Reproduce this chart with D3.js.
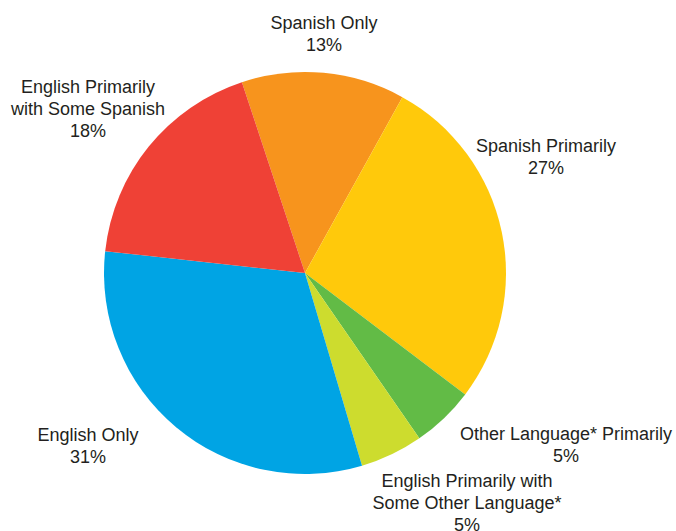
<!DOCTYPE html>
<html>
<head>
<meta charset="utf-8">
<script src="https://cdn.jsdelivr.net/npm/d3@7"></script>
<style>
  html, body { margin: 0; padding: 0; background: #fff; }
  svg { display: block; }
  text { font-family: "Liberation Sans", Arial, Helvetica, sans-serif; fill: #231f20; }
</style>
</head>
<body>
<svg id="chart" width="676" height="531"></svg>
<script>
// Language use shares, listed clockwise starting from "Spanish Only"
const categories = [
  "Spanish Only",
  "Spanish Primarily",
  "Other Language* Primarily",
  "English Primarily with Some Other Language*",
  "English Only",
  "English Primarily with Some Spanish"
];
const values = [13, 27, 5, 5, 31, 18];
const colors = ["#f7941d", "#ffc90b", "#62bb46", "#cddc2e", "#00a4e4", "#ef4136"];
// Label lines for each slice
const labelLines = [
  ["Spanish Only", "13%"],
  ["Spanish Primarily", "27%"],
  ["Other Language* Primarily", "5%"],
  ["English Primarily with", "Some Other Language*", "5%"],
  ["English Only", "31%"],
  ["English Primarily", "with Some Spanish", "18%"]
];
// Label anchor (x center, first baseline y) for each slice
const labelPos = [
  [324, 29],
  [546, 152],
  [566, 440],
  [467, 487],
  [88, 441],
  [88, 93]
];

const svg = d3.select("#chart");
const cx = 305, cy = 273, r = 201;
const start = -18.3 * Math.PI / 180;

const pie = d3.pie().sort(null).value(d => d.value)
  .startAngle(start).endAngle(start + 2 * Math.PI);
const arc = d3.arc().innerRadius(0).outerRadius(r);

const data = categories.map((c, i) => ({ name: c, value: values[i], color: colors[i] }));

const g = svg.append("g").attr("transform", `translate(${cx},${cy})`);
g.selectAll("path")
  .data(pie(data))
  .join("path")
  .attr("d", arc)
  .attr("fill", d => d.data.color);

const lineH = 22;
const labels = svg.append("g").attr("font-size", 18).attr("text-anchor", "middle");
labelLines.forEach((lines, i) => {
  const t = labels.append("text")
    .attr("x", labelPos[i][0])
    .attr("y", labelPos[i][1]);
  lines.forEach((ln, j) => {
    t.append("tspan")
      .attr("x", labelPos[i][0])
      .attr("dy", j === 0 ? 0 : lineH)
      .text(ln);
  });
});
</script>
</body>
</html>
